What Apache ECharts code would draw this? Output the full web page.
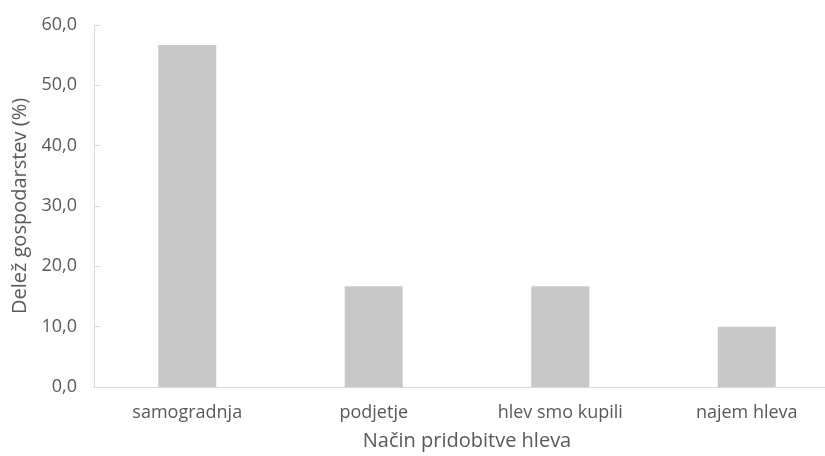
<!DOCTYPE html>
<html>
<head>
<meta charset="utf-8">
<script src="https://cdn.jsdelivr.net/npm/echarts@6/dist/echarts.min.js"></script>
<style>
  html, body { margin: 0; padding: 0; background: #ffffff; }
  #chart { width: 825px; height: 456px; }
</style>
</head>
<body>
<div id="chart"></div>
<script>
// Ways the farms acquired their barn, and share of farms (%)
const categories = ['samogradnja', 'podjetje', 'hlev smo kupili', 'najem hleva'];
const shares = [56.7, 16.7, 16.7, 10.0];
const yTicks = [0, 10, 20, 30, 40, 50, 60];

const textColor = '#595959';
const axisColor = '#d9d9d9';
const fontFamily = '"Open Sans", "Noto Sans", sans-serif';

const chart = echarts.init(document.getElementById('chart'), null, { renderer: 'canvas' });

chart.setOption({
  animation: false,
  backgroundColor: '#ffffff',
  // the plot area runs past the right edge of the canvas
  grid: { left: 94, top: 25, width: 746, height: 362, containLabel: false, outerBoundsMode: 'none' },
  xAxis: {
    type: 'category',
    data: categories,
    name: 'Način pridobitve hleva',
    nameLocation: 'middle',
    nameGap: 44,
    nameTextStyle: { color: textColor, fontSize: 20, fontFamily: fontFamily },
    axisLine: { show: true, lineStyle: { color: axisColor, width: 1 } },
    axisTick: { show: false },
    axisLabel: { color: textColor, fontSize: 18, fontFamily: fontFamily, margin: 17 }
  },
  yAxis: {
    type: 'value',
    min: yTicks[0],
    max: yTicks[yTicks.length - 1],
    interval: 10,
    name: 'Delež gospodarstev (%)',
    nameLocation: 'middle',
    nameGap: 62,
    nameTextStyle: { color: textColor, fontSize: 20, fontFamily: fontFamily },
    axisLine: { show: true, lineStyle: { color: axisColor, width: 1 } },
    axisTick: { show: true, inside: true, length: 6, lineStyle: { color: axisColor } },
    splitLine: { show: false },
    axisLabel: {
      color: textColor, fontSize: 18, fontFamily: fontFamily, margin: 17,
      formatter: v => v.toFixed(1).replace('.', ',')
    }
  },
  series: [{
    type: 'bar',
    data: shares,
    barWidth: 58,
    itemStyle: { color: '#c8c8c8' }
  }]
});
</script>
</body>
</html>
